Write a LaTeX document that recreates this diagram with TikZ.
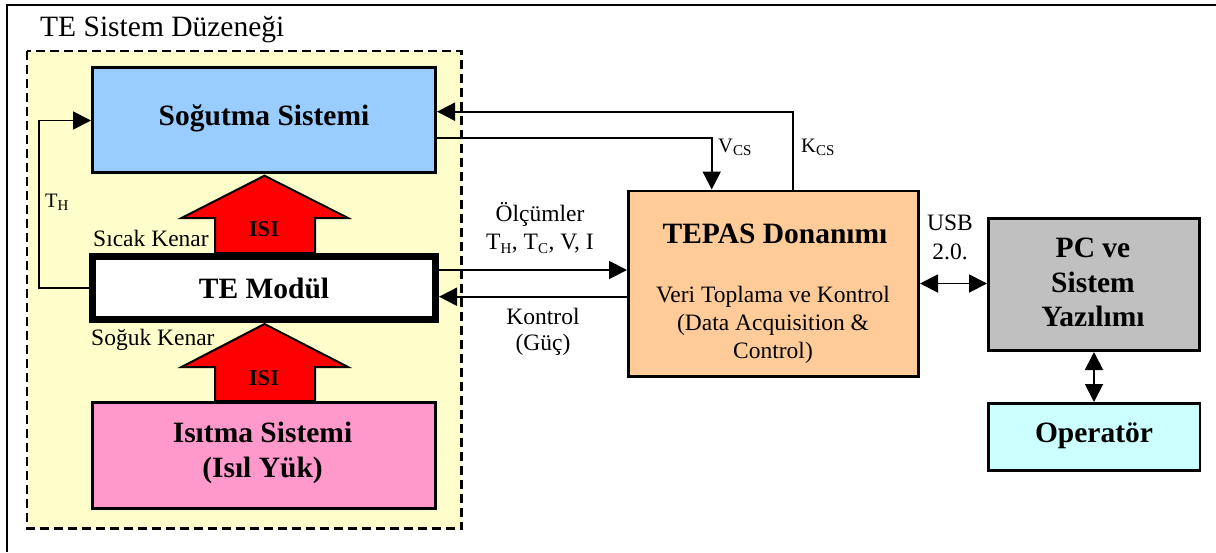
\documentclass[tikz,border=0pt]{standalone}
\usepackage{fontspec}
\setmainfont{Liberation Serif}
\usetikzlibrary{arrows.meta}
\definecolor{yel}{HTML}{FFFFCC}
\definecolor{blu}{HTML}{99CCFF}
\definecolor{pnk}{HTML}{FF99CC}
\definecolor{org}{HTML}{FFCC99}
\definecolor{gry}{HTML}{C0C0C0}
\definecolor{cya}{HTML}{CCFFFF}
\tikzset{
  x=1pt,y=-1pt,
  blk/.style={draw=black,line width=2.7pt,anchor=north west,inner sep=0pt},
  blab/.style={inner sep=0pt,align=center,font=\bfseries\fontsize{29.5}{34.5}\selectfont},
  lbl/.style={inner sep=0pt,align=center,font=\fontsize{23.5}{27.7}\selectfont},
  conn/.style={line width=1.9pt,-{Triangle[length=18pt,width=18pt]}},
  conn2/.style={line width=1.9pt,{Triangle[length=18pt,width=18pt]}-{Triangle[length=18pt,width=18pt]}},
  heat/.style={draw=black,line width=2pt,fill=red,line join=miter}
}
\newcommand{\sbs}[1]{\textsubscript{\fontsize{15}{15}\selectfont #1}}
\begin{document}
\begin{tikzpicture}
\useasboundingbox (0,0) rectangle (1216,552);
\fill[white] (0,0) rectangle (1216,552);
\coordinate (fa) at (1216,5);
\coordinate (fb) at (7,5);
\coordinate (fc) at (7,552);
\draw[line width=1.8pt] (fa) -- (fb) -- (fc);
\node[lbl,anchor=west,font=\fontsize{29.5}{34}\selectfont] (title) at (40,30) {TE Sistem Düzeneği};
\draw[fill=yel,line width=2.4pt,dash pattern=on 9pt off 5pt] (27,51) rectangle (461.5,528.5);
\node[blk,fill=blu,minimum width=343.3pt,minimum height=105.3pt] (cool) at (91,66) {};
\node[blab] (coolt) at (264,118.5) {Soğutma Sistemi};
\node[blk,fill=white,line width=7pt,minimum width=343pt,minimum height=63pt] (te) at (89,253) {};
\node[blab] (tet) at (264,288.5) {TE Modül};
\node[blk,fill=pnk,minimum width=343.3pt,minimum height=106.3pt] (heatsys) at (91,401) {};
\node[blab] (heatsyst) at (262.5,453) {Isıtma Sistemi\\(Isıl Yük)};
\node[blk,fill=org,minimum width=290.3pt,minimum height=185.3pt] (tepas) at (627,189.5) {};
\node[blab] (t1) at (775,234) {TEPAS Donanımı};
\node[lbl] (t2) at (773,325) {Veri Toplama ve Kontrol\\(Data Acquisition \&\\Control)};
\node[blk,fill=gry,minimum width=211.3pt,minimum height=132.3pt] (pc) at (987,217) {};
\node[blab] (pct) at (1093,282.5) {PC ve\\Sistem\\Yazılımı};
\node[blk,fill=cya,minimum width=211.5pt,minimum height=67.3pt] (op) at (987,402) {};
\node[blab] (opt) at (1094,436) {Operatör};
\draw[heat] (264.5,175.7) -- (348,218) -- (315,218) -- (315,253) -- (215,253) -- (215,218) -- (181.5,218) -- cycle;
\node[lbl,font=\bfseries\fontsize{22.5}{24}\selectfont] (i1) at (264,229) {ISI};
\draw[heat] (264.5,324) -- (348,367) -- (315,367) -- (315,401) -- (215,401) -- (215,367) -- (181.5,367) -- cycle;
\node[lbl,font=\bfseries\fontsize{22.5}{24}\selectfont] (i2) at (264,378) {ISI};
\node[lbl,anchor=west] (sk) at (93,238) {Sıcak Kenar};
\node[lbl,anchor=west] (so) at (91,340) {Soğuk Kenar};
\node[lbl,anchor=west,font=\fontsize{20.5}{24}\selectfont] (th) at (45,202) {T\sbs{H}};
\node[lbl,anchor=west,font=\fontsize{20.5}{24}\selectfont] (vcs) at (718,147) {V\sbs{CS}};
\node[lbl,anchor=west,font=\fontsize{20.5}{24}\selectfont] (kcs) at (801,147) {K\sbs{CS}};
\node[lbl] (m) at (540,228) {Ölçümler\\T\sbs{H}, T\sbs{C}, V, I};
\node[lbl,font=\fontsize{23.5}{26.5}\selectfont] (k) at (543,332) {Kontrol\\(Güç)};
\node[lbl,font=\fontsize{23.5}{28.5}\selectfont] (usb) at (950,237.5) {USB\\2.0.};
\draw[conn] (te.west |- 0,288) -| (39,120.5) -- (cool.west |- 0,120.5);
\draw[conn] (tepas.north -| 793,0) |- (cool.east |- 0,111.7);
\draw[conn] (cool.east |- 0,138.3) -| (tepas.north -| 711.7,0);
\draw[conn] (te.east |- 0,270) -- (tepas.west |- 0,270);
\draw[conn] (tepas.west |- 0,296.7) -- (te.east |- 0,296.7);
\draw[conn2] (tepas.east |- 0,283.5) -- (pc.west |- 0,283.5);
\draw[conn2] (pc.south -| 1094,0) -- (op.north -| 1094,0);
\end{tikzpicture}
\end{document}
